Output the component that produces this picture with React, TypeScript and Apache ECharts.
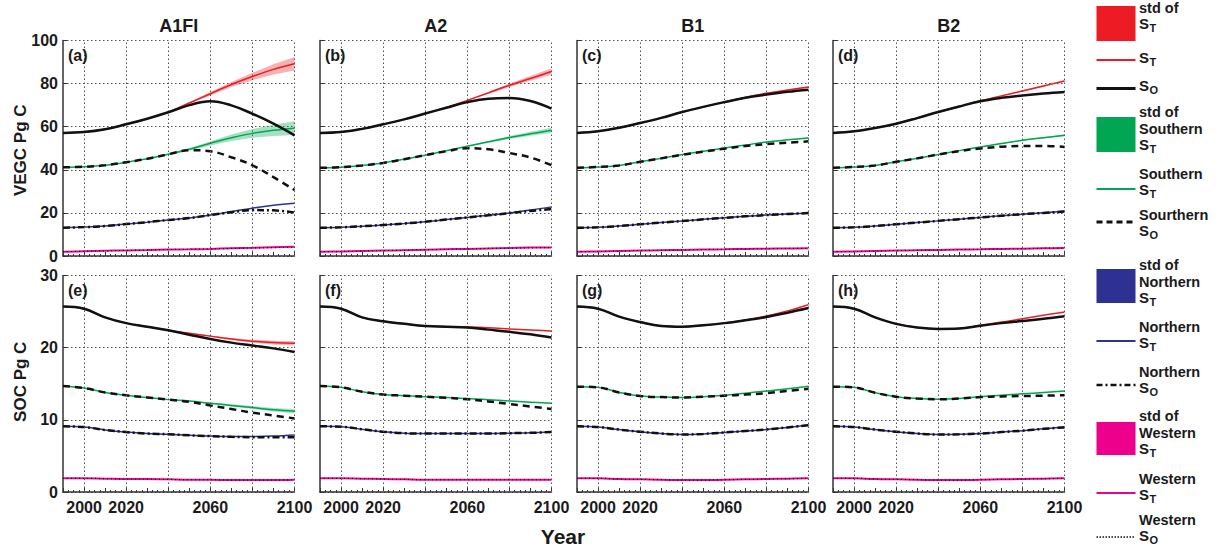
import React, { useEffect, useRef } from 'react';
import * as echarts from 'echarts';

// ---------------- data ----------------
const years = [1990, 2000, 2010, 2020, 2030, 2040, 2050, 2060, 2070, 2080, 2090, 2100];
const scenarios = ['A1FI', 'A2', 'B1', 'B2'];
const vegcLetters = ['(a)', '(b)', '(c)', '(d)'];
const socLetters = ['(e)', '(f)', '(g)', '(h)'];
const xLabelYears = [2000, 2020, 2060, 2100];
const gridYears = [2000, 2020, 2040, 2060, 2080, 2100];

// VEGC (Pg C)
const vegcTotalST_A1FI = [57.1, 57.5, 58.8, 61.1, 63.7, 66.7, 71.0, 75.3, 79.6, 83.3, 86.6, 89.2];
const vegcTotalSO_A1FI = [57.1, 57.5, 58.8, 61.1, 63.7, 66.7, 70.0, 71.8, 69.9, 66.0, 61.4, 56.0];
const vegcTotalSD_A1FI = [0, 0, 0, 0, 0, 0.2, 0.4, 0.8, 1.2, 1.7, 2.4, 3.1];
const vegcSouthST_A1FI = [41.2, 41.4, 42.1, 43.5, 45.1, 47.2, 49.5, 52.3, 54.9, 56.9, 58.3, 59.3];
const vegcSouthSO_A1FI = [41.2, 41.4, 42.1, 43.5, 45.1, 47.2, 49.1, 48.6, 45.8, 42.1, 36.6, 30.6];
const vegcSouthSD_A1FI = [0, 0, 0, 0, 0, 0.2, 0.5, 1.0, 1.5, 2.0, 2.6, 3.2];
const vegcNorthST_A1FI = [13.1, 13.4, 13.9, 14.8, 15.7, 16.7, 17.6, 19.0, 20.6, 22.2, 23.6, 24.5];
const vegcNorthSO_A1FI = [13.1, 13.4, 13.9, 14.8, 15.7, 16.7, 17.6, 19.0, 20.3, 21.3, 21.2, 20.2];
const vegcWestST_A1FI = [2.0, 2.2, 2.4, 2.6, 2.8, 3.0, 3.1, 3.3, 3.6, 3.8, 4.1, 4.3];
const vegcWestSO_A1FI = [2.0, 2.2, 2.4, 2.6, 2.8, 3.0, 3.1, 3.3, 3.5, 3.7, 3.9, 4.0];

const vegcTotalST_A2 = [57.1, 57.5, 59.0, 61.1, 63.4, 66.1, 68.9, 72.2, 75.7, 79.2, 82.4, 85.6];
const vegcTotalSO_A2 = [57.1, 57.5, 59.0, 61.1, 63.4, 66.1, 68.8, 71.4, 73.0, 73.3, 71.9, 68.4];
const vegcTotalSD_A2 = [0, 0, 0, 0, 0, 0, 0.1, 0.3, 0.5, 0.8, 1.1, 1.5];
const vegcSouthST_A2 = [40.9, 41.2, 42.0, 43.2, 44.9, 46.8, 48.8, 50.9, 53.0, 55.0, 56.7, 58.3];
const vegcSouthSO_A2 = [40.9, 41.2, 42.0, 43.2, 44.9, 46.8, 48.6, 50.0, 49.5, 47.8, 45.7, 42.1];
const vegcSouthSD_A2 = [0, 0, 0, 0, 0, 0, 0.1, 0.3, 0.5, 0.7, 0.9, 1.2];
const vegcNorthST_A2 = [13.1, 13.3, 13.8, 14.4, 15.1, 15.9, 16.9, 17.9, 18.9, 20.0, 21.3, 22.8];
const vegcNorthSO_A2 = [13.1, 13.3, 13.8, 14.4, 15.1, 15.9, 16.9, 17.9, 18.9, 19.9, 20.9, 21.8];
const vegcWestST_A2 = [2.0, 2.1, 2.3, 2.5, 2.7, 2.9, 3.1, 3.3, 3.5, 3.7, 3.9, 4.0];
const vegcWestSO_A2 = [2.0, 2.1, 2.3, 2.5, 2.7, 2.9, 3.1, 3.3, 3.5, 3.6, 3.8, 3.9];

const vegcTotalST_B1 = [57.1, 57.9, 59.5, 61.7, 64.1, 66.8, 69.2, 71.5, 73.6, 75.5, 77.0, 78.4];
const vegcTotalSO_B1 = [57.1, 57.9, 59.5, 61.7, 64.1, 66.8, 69.2, 71.4, 73.4, 74.9, 76.2, 77.2];
const vegcTotalSD_B1 = [0, 0, 0, 0, 0, 0, 0, 0.1, 0.2, 0.2, 0.3, 0.4];
const vegcSouthST_B1 = [40.9, 41.3, 42.0, 43.7, 45.3, 47.1, 48.6, 50.1, 51.5, 52.9, 53.9, 54.8];
const vegcSouthSO_B1 = [40.9, 41.3, 42.0, 43.7, 45.3, 47.0, 48.4, 49.8, 51.0, 51.9, 52.6, 53.2];
const vegcSouthSD_B1 = [0, 0, 0, 0, 0, 0, 0, 0.1, 0.1, 0.2, 0.2, 0.3];
const vegcNorthST_B1 = [13.1, 13.3, 13.9, 14.7, 15.5, 16.2, 17.0, 17.7, 18.4, 19.0, 19.5, 20.0];
const vegcNorthSO_B1 = [13.1, 13.3, 13.9, 14.7, 15.5, 16.2, 17.0, 17.7, 18.4, 19.0, 19.5, 19.9];
const vegcWestST_B1 = [2.0, 2.1, 2.3, 2.5, 2.7, 2.8, 3.0, 3.1, 3.3, 3.4, 3.5, 3.6];
const vegcWestSO_B1 = [2.0, 2.1, 2.3, 2.5, 2.7, 2.8, 3.0, 3.1, 3.3, 3.4, 3.5, 3.6];

const vegcTotalST_B2 = [57.1, 57.9, 59.4, 61.4, 64.0, 66.8, 69.4, 72.0, 74.3, 76.6, 78.9, 81.2];
const vegcTotalSO_B2 = [57.1, 57.9, 59.4, 61.4, 64.0, 66.8, 69.4, 71.8, 73.4, 74.5, 75.4, 76.1];
const vegcTotalSD_B2 = [0, 0, 0, 0, 0, 0, 0, 0.1, 0.2, 0.3, 0.4, 0.5];
const vegcSouthST_B2 = [40.9, 41.3, 42.0, 43.7, 45.3, 47.1, 48.9, 50.6, 52.2, 53.7, 54.9, 56.0];
const vegcSouthSO_B2 = [40.9, 41.3, 42.0, 43.7, 45.3, 47.1, 48.7, 49.9, 50.7, 51.1, 51.1, 50.6];
const vegcSouthSD_B2 = [0, 0, 0, 0, 0, 0, 0, 0.1, 0.2, 0.2, 0.3, 0.4];
const vegcNorthST_B2 = [13.1, 13.3, 13.9, 14.7, 15.5, 16.3, 17.1, 17.9, 18.7, 19.4, 20.1, 20.8];
const vegcNorthSO_B2 = [13.1, 13.3, 13.9, 14.7, 15.5, 16.3, 17.1, 17.9, 18.7, 19.4, 20.0, 20.7];
const vegcWestST_B2 = [2.0, 2.1, 2.3, 2.5, 2.7, 2.8, 3.0, 3.1, 3.3, 3.4, 3.6, 3.7];
const vegcWestSO_B2 = [2.0, 2.1, 2.3, 2.5, 2.7, 2.8, 3.0, 3.1, 3.3, 3.4, 3.6, 3.7];

// SOC (Pg C)
const socTotalST_A1FI = [25.7, 25.4, 24.2, 23.4, 22.9, 22.4, 22.0, 21.6, 21.2, 20.9, 20.7, 20.6];
const socTotalSO_A1FI = [25.7, 25.4, 24.2, 23.4, 22.9, 22.4, 21.8, 21.2, 20.7, 20.3, 19.9, 19.4];
const socTotalSD_A1FI = [0, 0, 0, 0, 0, 0, 0.05, 0.1, 0.15, 0.2, 0.25, 0.3];
const socSouthST_A1FI = [14.7, 14.4, 13.8, 13.4, 13.1, 12.8, 12.6, 12.3, 12.0, 11.7, 11.4, 11.2];
const socSouthSO_A1FI = [14.7, 14.4, 13.8, 13.4, 13.1, 12.8, 12.5, 12.0, 11.5, 11.0, 10.6, 10.2];
const socSouthSD_A1FI = [0, 0, 0, 0, 0, 0, 0.05, 0.1, 0.15, 0.2, 0.25, 0.3];
const socNorthST_A1FI = [9.1, 9.0, 8.6, 8.3, 8.1, 8.0, 7.85, 7.75, 7.7, 7.7, 7.75, 7.9];
const socNorthSO_A1FI = [9.1, 9.0, 8.6, 8.3, 8.1, 8.0, 7.85, 7.75, 7.65, 7.6, 7.6, 7.6];
const socWestST_A1FI = [1.9, 1.9, 1.85, 1.8, 1.8, 1.75, 1.7, 1.7, 1.65, 1.65, 1.65, 1.7];
const socWestSO_A1FI = [1.9, 1.9, 1.85, 1.8, 1.8, 1.75, 1.7, 1.7, 1.65, 1.65, 1.65, 1.7];

const socTotalST_A2 = [25.7, 25.4, 24.2, 23.65, 23.3, 23.0, 22.9, 22.85, 22.75, 22.6, 22.45, 22.3];
const socTotalSO_A2 = [25.7, 25.4, 24.2, 23.65, 23.3, 23.0, 22.9, 22.8, 22.5, 22.2, 21.85, 21.4];
const socSouthST_A2 = [14.7, 14.5, 13.9, 13.5, 13.35, 13.2, 13.1, 12.95, 12.8, 12.6, 12.45, 12.3];
const socSouthSO_A2 = [14.7, 14.5, 13.9, 13.5, 13.35, 13.2, 13.05, 12.85, 12.55, 12.2, 11.85, 11.5];
const socNorthST_A2 = [9.1, 9.05, 8.7, 8.35, 8.15, 8.1, 8.1, 8.1, 8.1, 8.15, 8.2, 8.3];
const socNorthSO_A2 = [9.1, 9.05, 8.7, 8.35, 8.15, 8.1, 8.1, 8.1, 8.1, 8.15, 8.2, 8.3];
const socWestST_A2 = [1.9, 1.9, 1.85, 1.8, 1.75, 1.7, 1.7, 1.7, 1.7, 1.7, 1.7, 1.7];
const socWestSO_A2 = [1.9, 1.9, 1.85, 1.8, 1.75, 1.7, 1.7, 1.7, 1.7, 1.7, 1.7, 1.7];

const socTotalST_B1 = [25.7, 25.4, 24.3, 23.55, 23.0, 22.9, 23.1, 23.4, 23.85, 24.4, 25.1, 25.95];
const socTotalSO_B1 = [25.7, 25.4, 24.3, 23.55, 23.0, 22.9, 23.1, 23.4, 23.8, 24.25, 24.85, 25.5];
const socSouthST_B1 = [14.6, 14.5, 13.8, 13.3, 13.15, 13.1, 13.2, 13.4, 13.7, 14.0, 14.3, 14.65];
const socSouthSO_B1 = [14.6, 14.5, 13.8, 13.3, 13.15, 13.1, 13.2, 13.35, 13.5, 13.7, 14.0, 14.3];
const socNorthST_B1 = [9.1, 9.0, 8.65, 8.35, 8.1, 7.97, 8.05, 8.25, 8.45, 8.67, 8.95, 9.27];
const socNorthSO_B1 = [9.1, 9.0, 8.65, 8.35, 8.1, 7.97, 8.05, 8.25, 8.45, 8.67, 8.95, 9.25];
const socWestST_B1 = [1.9, 1.9, 1.8, 1.75, 1.7, 1.65, 1.65, 1.7, 1.75, 1.8, 1.85, 1.9];
const socWestSO_B1 = [1.9, 1.9, 1.8, 1.75, 1.7, 1.65, 1.65, 1.7, 1.75, 1.8, 1.85, 1.9];

const socTotalST_B2 = [25.7, 25.4, 24.2, 23.3, 22.8, 22.6, 22.65, 23.1, 23.55, 24.0, 24.5, 24.95];
const socTotalSO_B2 = [25.7, 25.4, 24.2, 23.3, 22.8, 22.6, 22.65, 23.05, 23.4, 23.7, 24.0, 24.35];
const socSouthST_B2 = [14.6, 14.5, 13.75, 13.2, 12.95, 12.85, 12.95, 13.2, 13.4, 13.6, 13.8, 14.0];
const socSouthSO_B2 = [14.6, 14.5, 13.75, 13.2, 12.95, 12.85, 12.95, 13.15, 13.25, 13.3, 13.35, 13.4];
const socNorthST_B2 = [9.1, 9.0, 8.65, 8.35, 8.1, 7.97, 8.0, 8.1, 8.3, 8.5, 8.75, 9.0];
const socNorthSO_B2 = [9.1, 9.0, 8.65, 8.35, 8.1, 7.97, 8.0, 8.1, 8.3, 8.5, 8.75, 8.95];
const socWestST_B2 = [1.9, 1.9, 1.8, 1.75, 1.7, 1.65, 1.65, 1.7, 1.75, 1.8, 1.85, 1.9];
const socWestSO_B2 = [1.9, 1.9, 1.8, 1.75, 1.7, 1.65, 1.65, 1.7, 1.75, 1.8, 1.85, 1.9];

// legend entries: text lines ("S_T" / "S_O" => S with subscript)
const legendLines: string[][] = [
  ['std of', 'S_T'],
  ['S_T'],
  ['S_O'],
  ['std of', 'Southern', 'S_T'],
  ['Southern', 'S_T'],
  ['Sourthern', 'S_O'],
  ['std of', 'Northern', 'S_T'],
  ['Northern', 'S_T'],
  ['Northern', 'S_O'],
  ['std of', 'Western', 'S_T'],
  ['Western', 'S_T'],
  ['Western', 'S_O'],
];

// ---------------- styles / layout ----------------
const FONT = '"Liberation Sans", Arial, Helvetica, sans-serif';
const RED = '#ed1c24';
const GREEN = '#00a651';
const BLUE = '#2e3192';
const MAGENTA = '#ec008c';
const BLACK = '#111111';
const AXIS = '#333333';
const GRIDC = '#555555';
const DOT: number[] = [1.5, 2.5];

const panelLefts = [63, 320, 577, 833];
const panelWidth = 231.5;
const rowTops = [40.5, 275.5];
const rowHeights = [215.5, 216.5];

const legendLayout: any[] = [
  { kind: 'box', color: RED, last: 25, box: [6, 41] },
  { kind: 'line', color: RED, width: 2, dash: 'solid', last: 59, ly: 60 },
  { kind: 'line', color: BLACK, width: 3, dash: 'solid', last: 87, ly: 88.5 },
  { kind: 'box', color: GREEN, last: 146, box: [117, 152] },
  { kind: 'line', color: GREEN, width: 2, dash: 'solid', last: 191, ly: 189 },
  { kind: 'line', color: BLACK, width: 3, dash: [6, 4], last: 232, ly: 222 },
  { kind: 'box', color: BLUE, last: 299, box: [269, 303] },
  { kind: 'line', color: BLUE, width: 2, dash: 'solid', last: 344, ly: 341 },
  { kind: 'line', color: BLACK, width: 2.5, dash: [6, 3, 2, 3], last: 389, ly: 385 },
  { kind: 'box', color: MAGENTA, last: 450, box: [422, 455] },
  { kind: 'line', color: MAGENTA, width: 2, dash: 'solid', last: 496, ly: 493 },
  { kind: 'line', color: BLACK, width: 1.5, dash: [1.5, 1.5], last: 537, ly: 537 },
];

type Block = {
  totalST: number[]; totalSO: number[]; totalSD?: number[];
  southST: number[]; southSO: number[]; southSD?: number[];
  northST: number[]; northSO: number[];
  westST: number[]; westSO: number[];
};

const vegc: Block[] = [
  { totalST: vegcTotalST_A1FI, totalSO: vegcTotalSO_A1FI, totalSD: vegcTotalSD_A1FI, southST: vegcSouthST_A1FI, southSO: vegcSouthSO_A1FI, southSD: vegcSouthSD_A1FI, northST: vegcNorthST_A1FI, northSO: vegcNorthSO_A1FI, westST: vegcWestST_A1FI, westSO: vegcWestSO_A1FI },
  { totalST: vegcTotalST_A2, totalSO: vegcTotalSO_A2, totalSD: vegcTotalSD_A2, southST: vegcSouthST_A2, southSO: vegcSouthSO_A2, southSD: vegcSouthSD_A2, northST: vegcNorthST_A2, northSO: vegcNorthSO_A2, westST: vegcWestST_A2, westSO: vegcWestSO_A2 },
  { totalST: vegcTotalST_B1, totalSO: vegcTotalSO_B1, totalSD: vegcTotalSD_B1, southST: vegcSouthST_B1, southSO: vegcSouthSO_B1, southSD: vegcSouthSD_B1, northST: vegcNorthST_B1, northSO: vegcNorthSO_B1, westST: vegcWestST_B1, westSO: vegcWestSO_B1 },
  { totalST: vegcTotalST_B2, totalSO: vegcTotalSO_B2, totalSD: vegcTotalSD_B2, southST: vegcSouthST_B2, southSO: vegcSouthSO_B2, southSD: vegcSouthSD_B2, northST: vegcNorthST_B2, northSO: vegcNorthSO_B2, westST: vegcWestST_B2, westSO: vegcWestSO_B2 },
];
const soc: Block[] = [
  { totalST: socTotalST_A1FI, totalSO: socTotalSO_A1FI, totalSD: socTotalSD_A1FI, southST: socSouthST_A1FI, southSO: socSouthSO_A1FI, southSD: socSouthSD_A1FI, northST: socNorthST_A1FI, northSO: socNorthSO_A1FI, westST: socWestST_A1FI, westSO: socWestSO_A1FI },
  { totalST: socTotalST_A2, totalSO: socTotalSO_A2, southST: socSouthST_A2, southSO: socSouthSO_A2, northST: socNorthST_A2, northSO: socNorthSO_A2, westST: socWestST_A2, westSO: socWestSO_A2 },
  { totalST: socTotalST_B1, totalSO: socTotalSO_B1, southST: socSouthST_B1, southSO: socSouthSO_B1, northST: socNorthST_B1, northSO: socNorthSO_B1, westST: socWestST_B1, westSO: socWestSO_B1 },
  { totalST: socTotalST_B2, totalSO: socTotalSO_B2, southST: socSouthST_B2, southSO: socSouthSO_B2, northST: socNorthST_B2, northSO: socNorthSO_B2, westST: socWestST_B2, westSO: socWestSO_B2 },
];

function pairs(vals: number[]) {
  return years.map((y, i) => [y, vals[i]]);
}

function lineSeries(g: number, vals: number[], color: string, width: number, type: any, z: number, extra: any = {}) {
  return {
    type: 'line',
    xAxisIndex: g,
    yAxisIndex: g,
    data: pairs(vals),
    showSymbol: false,
    symbol: 'none',
    smooth: 0.4,
    silent: true,
    z,
    lineStyle: { color, width, type },
    ...extra,
  };
}

function bandSeries(g: number, mean: number[], sd: number[], color: string) {
  return {
    type: 'custom',
    xAxisIndex: g,
    yAxisIndex: g,
    silent: true,
    z: 1,
    data: years.map((y, i) => [y, mean[i] - sd[i], mean[i] + sd[i]]),
    encode: { x: 0, y: [1, 2] },
    renderItem: (params: any, api: any) => {
      if (params.dataIndex !== 0) return null;
      const pts: number[][] = [];
      for (let i = 0; i < years.length; i++) pts.push(api.coord([years[i], mean[i] + sd[i]]));
      for (let i = years.length - 1; i >= 0; i--) pts.push(api.coord([years[i], mean[i] - sd[i]]));
      return { type: 'polygon', shape: { points: pts }, style: { fill: color, opacity: 0.35 } };
    },
  };
}

function textEl(x: number, y: number, text: string, font: string, align: string, extra: any = {}) {
  return {
    type: 'text',
    x,
    y,
    ...extra,
    style: {
      text,
      font,
      fill: '#1a1a1a',
      align,
      verticalAlign: 'middle',
      textAlign: align,
      textVerticalAlign: 'middle',
    },
  };
}

function buildOption() {
  const grid: any[] = [];
  const xAxis: any[] = [];
  const yAxis: any[] = [];
  const series: any[] = [];
  const graphic: any[] = [];

  for (let row = 0; row < 2; row++) {
    for (let col = 0; col < 4; col++) {
      const g = row * 4 + col;
      grid.push({ left: panelLefts[col], top: rowTops[row], width: panelWidth, height: rowHeights[row], containLabel: false });
      xAxis.push({
        type: 'value',
        gridIndex: g,
        min: 1990,
        max: 2100,
        interval: 10,
        axisLine: { show: true, lineStyle: { color: AXIS, width: 1.5 } },
        axisTick: { show: true, inside: true, length: 4, lineStyle: { color: AXIS } },
        minorTick: { show: true, splitNumber: 4, length: 2, lineStyle: { color: AXIS } },
        splitLine: { show: false },
        axisLabel: {
          show: row === 1,
          margin: 7,
          color: '#1a1a1a',
          fontFamily: FONT,
          fontWeight: 'bold',
          fontSize: 16,
          formatter: (v: number) => (xLabelYears.indexOf(v) >= 0 ? String(v) : ''),
        },
      });
      yAxis.push({
        type: 'value',
        gridIndex: g,
        min: 0,
        max: row === 0 ? 100 : 30,
        interval: row === 0 ? 20 : 10,
        axisLine: { show: true, lineStyle: { color: AXIS, width: 1.5 } },
        axisTick: { show: true, inside: true, length: 4, lineStyle: { color: AXIS } },
        splitLine: { show: true, lineStyle: { color: GRIDC, width: 1, type: DOT } },
        axisLabel: {
          show: col === 0,
          margin: 5,
          color: '#1a1a1a',
          fontFamily: FONT,
          fontWeight: 'bold',
          fontSize: 16,
        },
      });

      const b = row === 0 ? vegc[col] : soc[col];
      if (b.totalSD) series.push(bandSeries(g, b.totalST, b.totalSD, RED));
      if (b.southSD) series.push(bandSeries(g, b.southST, b.southSD, GREEN));
      series.push(
        lineSeries(g, b.westST, MAGENTA, 2, 'solid', 2, {
          markLine: {
            silent: true,
            symbol: ['none', 'none'],
            label: { show: false },
            lineStyle: { color: GRIDC, width: 1, type: DOT },
            data: gridYears.map((yr) => ({ xAxis: yr })),
          },
        })
      );
      series.push(lineSeries(g, b.northST, BLUE, 1.5, 'solid', 3));
      series.push(lineSeries(g, b.southST, GREEN, 1.5, 'solid', 3));
      series.push(lineSeries(g, b.totalST, RED, 1.5, 'solid', 3));
      series.push(lineSeries(g, b.westSO, BLACK, 1.2, [1, 3], 4));
      series.push(lineSeries(g, b.northSO, BLACK, 2.5, [7, 3, 2, 3], 4));
      series.push(lineSeries(g, b.southSO, BLACK, 2.5, [7, 5], 4));
      series.push(lineSeries(g, b.totalSO, BLACK, 2.5, 'solid', 5));

      graphic.push(
        textEl(panelLefts[col] + 5, rowTops[row] + 14.5, row === 0 ? vegcLetters[col] : socLetters[col], `bold 16px ${FONT}`, 'left', { z: 10 })
      );
    }
  }

  scenarios.forEach((s, col) => {
    graphic.push(textEl(panelLefts[col] + panelWidth / 2, 26, s, `bold 18px ${FONT}`, 'center'));
  });

  graphic.push(textEl(20.5, rowTops[0] + rowHeights[0] / 2 + 2, 'VEGC Pg C', `bold 17px ${FONT}`, 'center', { rotation: Math.PI / 2 }));
  graphic.push(textEl(20.5, rowTops[1] + rowHeights[1] / 2 - 2, 'SOC Pg C', `bold 17px ${FONT}`, 'center', { rotation: Math.PI / 2 }));
  graphic.push(textEl(563, 536, 'Year', `bold 21px ${FONT}`, 'center'));

  // legend
  const lx0 = 1096.5;
  const lx1 = 1135.5;
  const tx = 1139;
  const LH = 17;
  legendLayout.forEach((item, idx) => {
    const lines = legendLines[idx];
    if (item.kind === 'box') {
      graphic.push({
        type: 'rect',
        shape: { x: lx0, y: item.box[0], width: lx1 - lx0, height: item.box[1] - item.box[0] },
        style: { fill: item.color },
      });
    } else {
      graphic.push({
        type: 'line',
        shape: { x1: lx0, y1: item.ly, x2: lx1, y2: item.ly },
        style: { stroke: item.color, lineWidth: item.width, lineDash: item.dash === 'solid' ? null : item.dash },
      });
    }
    lines.forEach((txt, li) => {
      const cy = item.last - (lines.length - 1 - li) * LH;
      if (txt.indexOf('S_') === 0) {
        graphic.push(textEl(tx, cy - 2, 'S', `bold 15px ${FONT}`, 'left'));
        graphic.push(textEl(tx + 10.5, cy + 3, txt.slice(2), `bold 11px ${FONT}`, 'left'));
      } else {
        graphic.push(textEl(tx, cy, txt, `bold 14.5px ${FONT}`, 'left'));
      }
    });
  });

  return {
    animation: false,
    backgroundColor: '#ffffff',
    tooltip: { show: false },
    grid,
    xAxis,
    yAxis,
    series,
    graphic,
  };
}

export default function App() {
  const ref = useRef<HTMLDivElement>(null);
  useEffect(() => {
    document.body.style.margin = '0';
    if (!ref.current) return;
    const chart = echarts.init(ref.current, undefined, { renderer: 'svg' });
    chart.setOption(buildOption() as any);
    return () => {
      chart.dispose();
    };
  }, []);
  return <div ref={ref} style={{ width: 1218, height: 550, background: '#fff' }} />;
}
